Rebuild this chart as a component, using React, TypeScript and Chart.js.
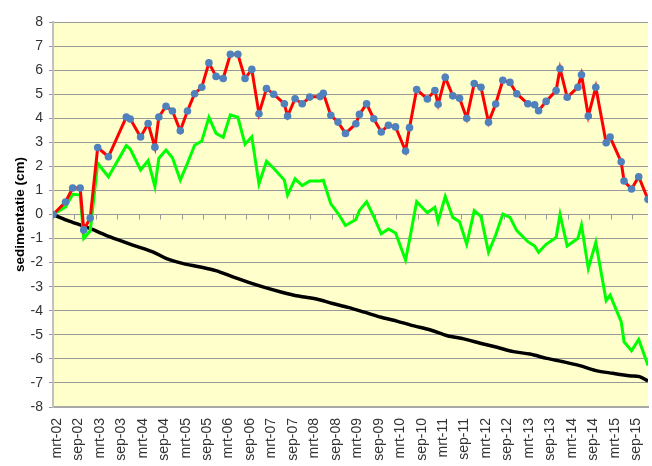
import React, { useEffect, useRef } from "react";
import { Chart, registerables } from "chart.js";

Chart.register(...registerables);

// months since mrt-02
const months = [
  0, 3.5, 5.5, 7.6, 8.6, 10.4, 12.5, 15.5, 20.5, 21.6, 24.5, 26.6, 28.5, 29.6, 31.6, 33.4, 35.6, 37.6, 39.6, 41.6,
  43.6, 45.6, 47.6, 49.6, 51.7, 53.7, 55.6, 57.6, 59.7, 61.7, 64.7, 65.6, 67.7, 69.7, 71.8, 74.7, 75.6, 77.7, 79.7,
  81.8, 84.7, 85.7, 87.7, 89.7, 91.8, 93.8, 95.8, 98.6, 99.7, 101.7, 104.7, 106.8, 107.7, 109.7, 111.8, 113.7, 115.7,
  117.8, 119.7, 121.8, 123.8, 125.8, 127.8, 129.7, 132.8, 134.7, 135.8, 137.9, 140.7, 141.8, 143.8, 146.8, 147.8,
  149.7, 151.8, 154.7, 155.8, 158.9, 159.7, 161.8, 163.8, 166.4,
];

const sedRed = [
  0, 0.52, 1.1, 1.1, -0.64, -0.15, 2.78, 2.4, 4.05, 3.97, 3.22, 3.78, 2.8, 4.05, 4.5, 4.3, 3.48, 4.3, 5.02, 5.29,
  6.3, 5.74, 5.65, 6.66, 6.66, 5.65, 6.03, 4.19, 5.23, 5.0, 4.6, 4.09, 4.81, 4.6, 4.88, 4.9, 5.04, 4.12, 3.84,
  3.37, 3.77, 4.16, 4.6, 3.98, 3.43, 3.71, 3.64, 2.64, 3.61, 5.19, 4.8, 5.15, 4.58, 5.7, 4.93, 4.83, 4.0,
  5.44, 5.29, 3.83, 4.59, 5.58, 5.49, 5.02, 4.6, 4.56, 4.31, 4.7, 5.15, 6.06, 4.87, 5.29, 5.81,
  4.09, 5.29, 2.98, 3.22, 2.19, 1.39, 1.06, 1.57, 0.63,
];

const sedGreen = [
  0, 0.32, 0.84, 0.81, -0.99, -0.69, 2.13, 1.57, 2.86, 2.72, 1.85, 2.24, 1.16, 2.34, 2.68, 2.36, 1.43, 2.13, 2.88, 3.05,
  4.04, 3.37, 3.21, 4.14, 4.04, 2.92, 3.23, 1.27, 2.21, 1.92, 1.43, 0.81, 1.48, 1.2, 1.39, 1.39, 1.42, 0.44, 0.05,
  -0.46, -0.21, 0.17, 0.53, -0.09, -0.8, -0.6, -0.77, -1.89, -1.06, 0.53, 0.07, 0.3, -0.3, 0.75, -0.12, -0.3, -1.24,
  0.16, -0.09, -1.57, -0.85, 0.02, -0.12, -0.67, -1.13, -1.31, -1.57, -1.24, -0.96, 0.0, -1.31, -0.99, -0.44,
  -2.24, -1.16, -3.58, -3.35, -4.45, -5.29, -5.66, -5.19, -6.28,
];

const blackMonths = [
  0, 3.8, 10.3, 15.8, 22.3, 27.9, 31.6, 36.2, 40.8, 45.5, 50.1, 54.7, 59.4, 64, 68.6, 74.2, 77.9, 82.5, 87.1, 91.8,
  96.4, 101, 105.6, 110.3, 114.9, 119.5, 124.2, 128.8, 133.4, 138.1, 142.7, 147.3, 151.9, 156.6, 161.2, 164, 166.4,
];
const blackValues = [
  0, -0.23, -0.58, -0.92, -1.27, -1.55, -1.82, -2.03, -2.17, -2.33, -2.58, -2.82, -3.04, -3.23, -3.39, -3.53, -3.69,
  -3.86, -4.06, -4.27, -4.44, -4.63, -4.8, -5.04, -5.17, -5.35, -5.52, -5.7, -5.8, -5.98, -6.12, -6.28, -6.49, -6.6,
  -6.7, -6.74, -6.92,
];

const xTickLabels = [
  "mrt-02", "sep-02", "mrt-03", "sep-03", "mrt-04", "sep-04", "mrt-05", "sep-05", "mrt-06", "sep-06",
  "mrt-07", "sep-07", "mrt-08", "sep-08", "mrt-09", "sep-09", "mrt-10", "sep-10", "mrt-11", "sep-11",
  "mrt-12", "sep-12", "mrt-13", "sep-13", "mrt-14", "sep-14", "mrt-15", "sep-15",
];
const xTickStep = 6;
const xMax = 166.4;
const yTicks = [-8, 8];

const FONT = "'Liberation Sans', Arial, sans-serif";

const bgPlugin = {
  id: "bgPlugin",
  beforeDraw(chart: any) {
    const { ctx, chartArea } = chart;
    ctx.save();
    ctx.fillStyle = "#FFFFCC";
    ctx.fillRect(chartArea.left, chartArea.top, chartArea.right - chartArea.left, chartArea.bottom - chartArea.top);
    ctx.restore();
  },
  beforeDatasetsDraw(chart: any) {
    const { ctx } = chart;
    const xs = chart.scales.x;
    const ys = chart.scales.y;
    const y0 = ys.getPixelForValue(0);
    ctx.save();
    ctx.strokeStyle = "#9a9a9a";
    ctx.lineWidth = 1;
    ctx.beginPath();
    xTickLabels.forEach((_, i) => {
      const px = Math.round(xs.getPixelForValue(i * xTickStep)) + 0.5;
      ctx.moveTo(px, y0);
      ctx.lineTo(px, y0 + 5);
    });
    ctx.stroke();
    ctx.restore();
  },
};

export default function App() {
  const ref = useRef<HTMLCanvasElement | null>(null);
  useEffect(() => {
    if (!ref.current) return;
    const chart = new Chart(ref.current, {
      type: "line",
      data: {
        datasets: [
          {
            label: "red",
            data: months.map((m, i) => ({ x: m, y: sedRed[i] })),
            borderColor: "#FF0000",
            borderWidth: 3,
            pointRadius: 3.8,
            pointBackgroundColor: "#4F81BD",
            pointBorderColor: "#4F81BD",
            pointBorderWidth: 0,
            tension: 0,
            order: 1,
          },
          {
            label: "green",
            data: months.map((m, i) => ({ x: m, y: sedGreen[i] })),
            borderColor: "#00FF00",
            borderWidth: 3,
            pointRadius: 0,
            tension: 0,
            order: 2,
          },
          {
            label: "black",
            data: blackMonths.map((m, i) => ({ x: m, y: blackValues[i] })),
            borderColor: "#000000",
            borderWidth: 3.5,
            pointRadius: 0,
            tension: 0.3,
            order: 3,
          },
        ],
      },
      options: {
        responsive: false,
        animation: false,
        devicePixelRatio: 1,
        layout: { padding: { top: 22, right: -4, left: 0, bottom: 0 } },
        plugins: { legend: { display: false }, tooltip: { enabled: false } },
        scales: {
          x: {
            type: "linear",
            min: 0,
            max: xMax,
            afterBuildTicks(scale: any) {
              scale.ticks = xTickLabels.map((_, i) => ({ value: i * xTickStep }));
            },
            afterFit(scale: any) {
              scale.height = 59;
              scale.paddingLeft = 0;
              scale.paddingRight = 0;
            },
            grid: { display: false, drawTicks: false },
            border: { display: true, color: "#a8a8a8", width: 2 },
            ticks: {
              autoSkip: false,
              minRotation: 90,
              maxRotation: 90,
              padding: 11,
              labelOffset: 4,
              color: "#333333",
              font: { family: FONT, size: 14 },
              callback: (_v: any, i: number) => xTickLabels[i],
            },
          },
          y: {
            min: yTicks[0],
            max: yTicks[1],
            afterFit(scale: any) {
              scale.width = 53;
            },
            grid: { color: "#999999", lineWidth: 1, tickLength: 4 },
            border: { display: true, color: "#c0c0c0", width: 2 },
            ticks: {
              stepSize: 1,
              padding: 6,
              color: "#333333",
              font: { family: FONT, size: 14 },
            },
            title: {
              display: true,
              text: "sedimentatie (cm)",
              color: "#000000",
              font: { family: FONT, size: 13.5, weight: "bold" },
              padding: { top: 12, bottom: 0 },
            },
          },
        },
      },
      plugins: [bgPlugin],
    });
    return () => chart.destroy();
  }, []);
  return (
    <div style={{ position: "absolute", left: 0, top: 0, width: 652, height: 466 }}>
      <canvas ref={ref} width={652} height={466} />
    </div>
  );
}
